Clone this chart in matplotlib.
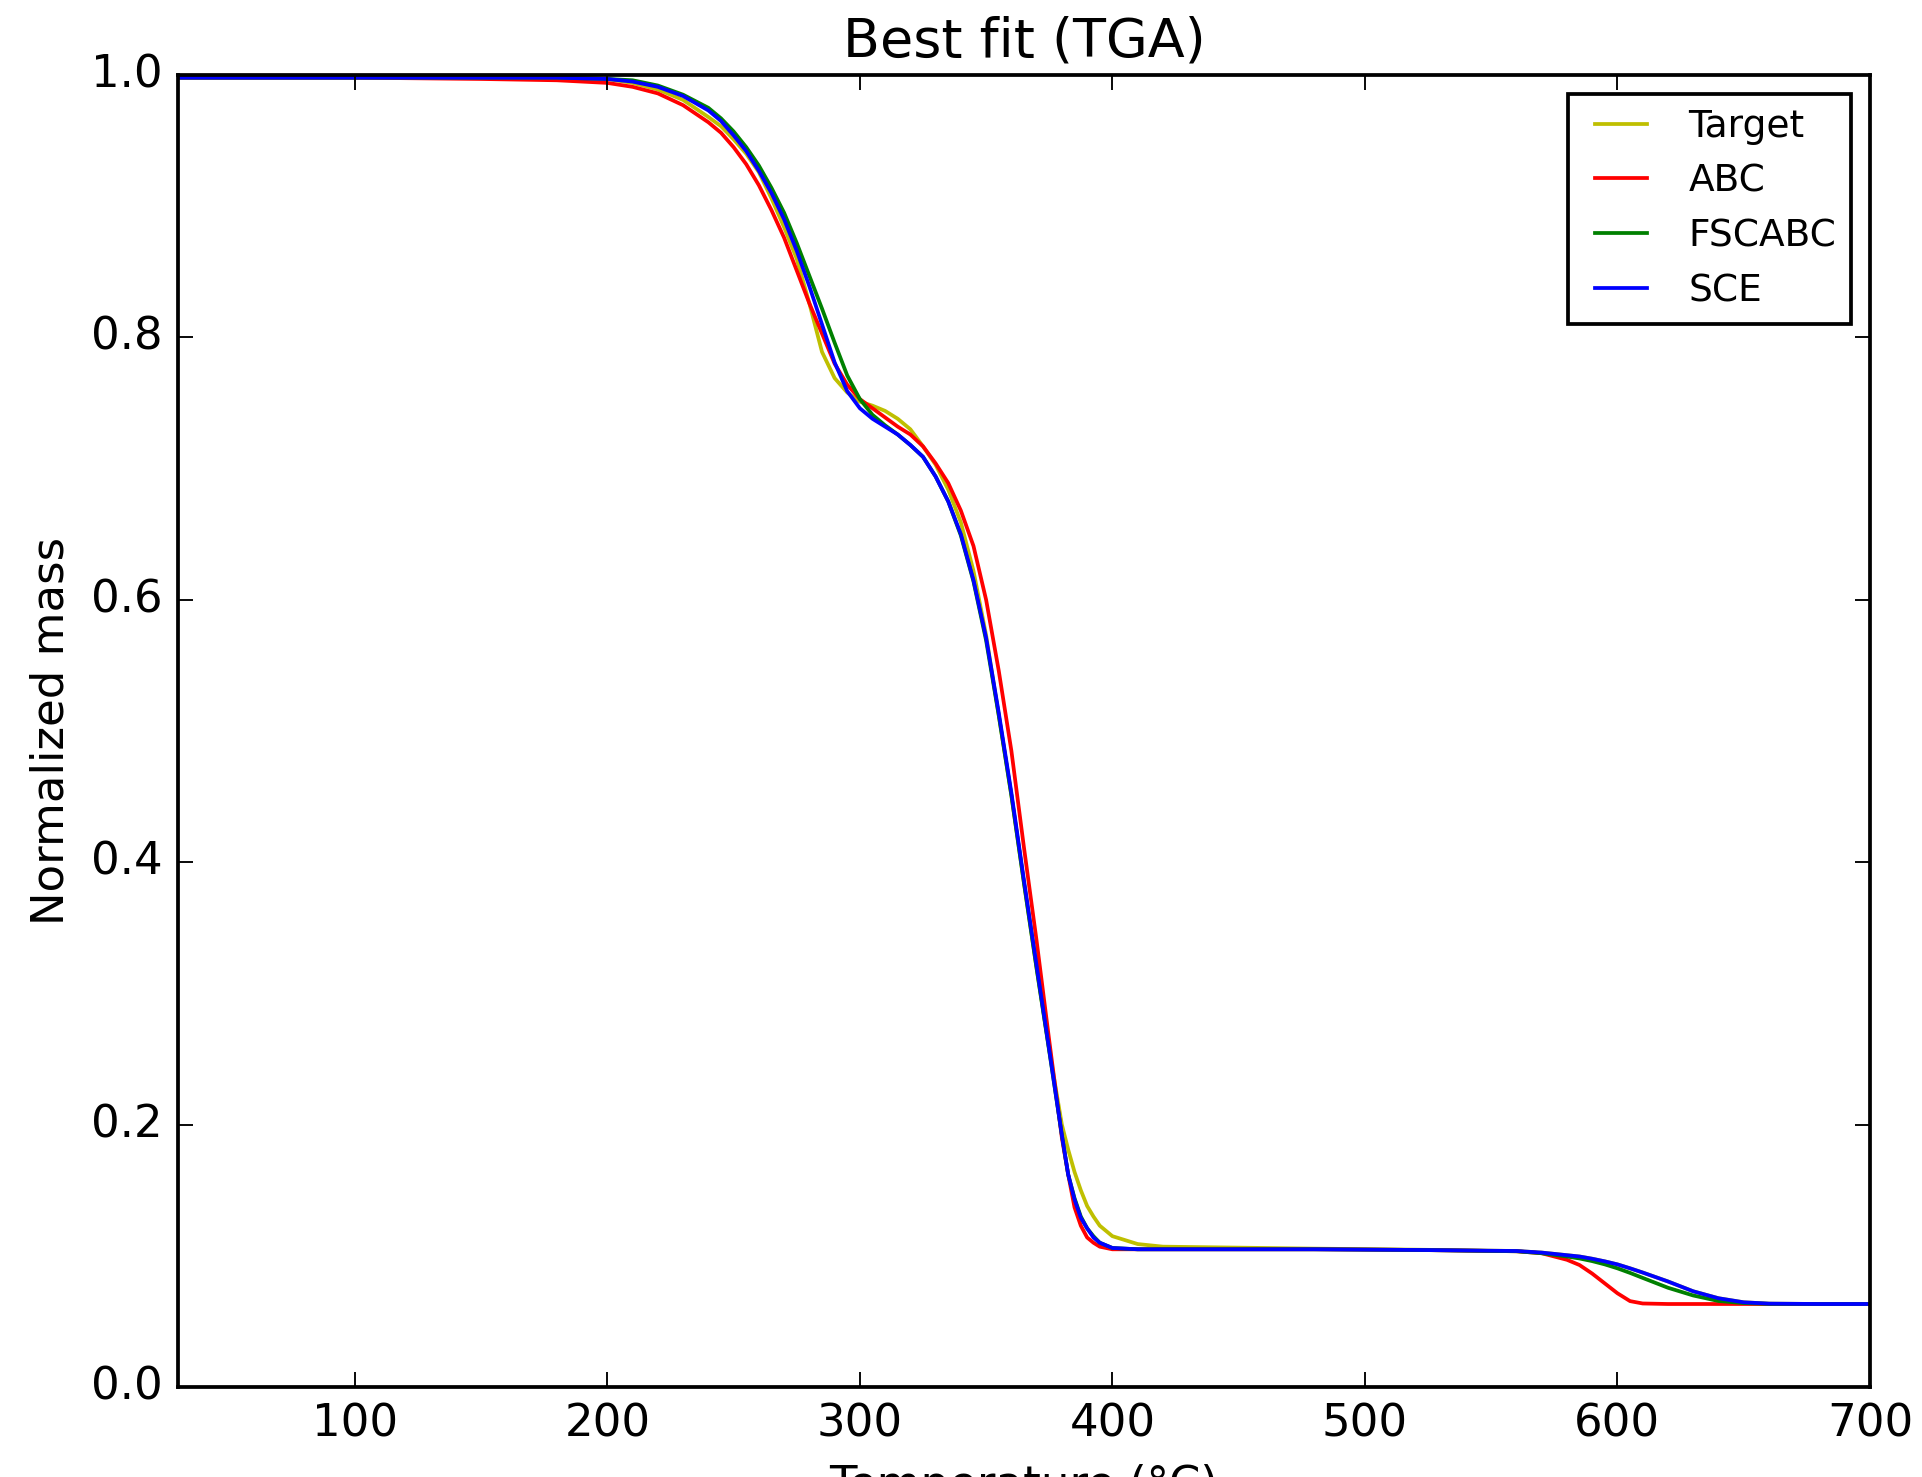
import matplotlib
matplotlib.use("Agg")
import matplotlib.pyplot as plt

plt.style.use("classic")

# temperature grid (degC) the curves were read at
temps = [30, 100, 150, 180, 200, 210, 220, 230, 240, 245, 250, 255, 260, 265, 270, 275, 280, 285,
         290, 295, 300, 305, 310, 315, 320, 325, 330, 335, 340, 345, 350, 355, 360,
         365, 370, 375, 380, 382.5, 385, 387.5, 390, 392.5, 395, 400, 410, 420, 440, 480, 520, 560, 570,
         580, 585, 590, 595, 600, 605, 610, 620, 630, 640, 650, 660, 680, 700]

target = [0.998, 0.998, 0.998, 0.998, 0.997, 0.994, 0.989, 0.981, 0.968, 0.961, 0.951, 0.940, 0.926, 0.906, 0.884, 0.860, 0.826, 0.789,
          0.769, 0.758, 0.751, 0.748, 0.744, 0.738, 0.730, 0.717, 0.703, 0.684, 0.659, 0.622, 0.573, 0.512, 0.451,
          0.384, 0.319, 0.257, 0.200, 0.181, 0.164, 0.150, 0.138, 0.130, 0.123, 0.115, 0.109, 0.107, 0.1065, 0.1055, 0.1047, 0.1037, 0.1025,
          0.1005, 0.0995, 0.0978, 0.0958, 0.0935, 0.0905, 0.0873, 0.0805, 0.0730, 0.0677, 0.0646, 0.0636, 0.0633, 0.0633]

abc = [0.998, 0.998, 0.997, 0.996, 0.994, 0.991, 0.986, 0.977, 0.964, 0.956, 0.945, 0.932, 0.916, 0.897, 0.876, 0.851, 0.826, 0.803,
       0.780, 0.764, 0.753, 0.746, 0.739, 0.732, 0.726, 0.717, 0.704, 0.689, 0.668, 0.641, 0.600, 0.546, 0.485,
       0.411, 0.340, 0.264, 0.190, 0.162, 0.137, 0.123, 0.114, 0.110, 0.107, 0.105, 0.105, 0.105, 0.105, 0.105, 0.1045, 0.1035, 0.102,
       0.097, 0.093, 0.0865, 0.079, 0.0715, 0.0655, 0.0637, 0.0633, 0.0633, 0.0633, 0.0633, 0.0633, 0.0633, 0.0633]

fscabc = [0.998, 0.998, 0.998, 0.998, 0.997, 0.996, 0.992, 0.985, 0.975, 0.967, 0.957, 0.945, 0.931, 0.914, 0.895, 0.872, 0.847, 0.822,
          0.796, 0.771, 0.753, 0.741, 0.733, 0.726, 0.718, 0.709, 0.694, 0.675, 0.649, 0.614, 0.569, 0.512, 0.451,
          0.384, 0.319, 0.256, 0.192, 0.162, 0.144, 0.130, 0.121, 0.115, 0.110, 0.106, 0.105, 0.105, 0.105, 0.105, 0.1045, 0.1035, 0.102,
          0.0995, 0.098, 0.096, 0.0935, 0.0905, 0.087, 0.0832, 0.0757, 0.0698, 0.0656, 0.0640, 0.0634, 0.0633, 0.0633]

sce = [0.998, 0.998, 0.998, 0.998, 0.997, 0.995, 0.991, 0.984, 0.973, 0.965, 0.954, 0.942, 0.927, 0.910, 0.890, 0.866, 0.839, 0.810,
       0.781, 0.759, 0.746, 0.738, 0.732, 0.726, 0.718, 0.709, 0.694, 0.675, 0.650, 0.615, 0.571, 0.514, 0.453,
       0.386, 0.321, 0.257, 0.192, 0.162, 0.143, 0.129, 0.121, 0.114, 0.110, 0.106, 0.105, 0.105, 0.105, 0.105, 0.1045, 0.1037, 0.1025,
       0.1005, 0.0995, 0.0978, 0.0958, 0.0935, 0.0905, 0.0873, 0.0805, 0.0730, 0.0677, 0.0646, 0.0636, 0.0633, 0.0633]

dpi = 270
fig = plt.figure(figsize=(1923 / dpi, 1477 / dpi), dpi=dpi, facecolor="white")
ax = fig.add_axes([0.0926, 0.0609, 0.9724 - 0.0926, 0.9492 - 0.0609])

ax.plot(temps, target, color="y", label="Target")
ax.plot(temps, abc, color="r", label="ABC")
ax.plot(temps, fscabc, color="g", label="FSCABC")
ax.plot(temps, sce, color="b", label="SCE")

ax.set_xlim(30, 700)
ax.set_ylim(0.0, 1.0)
ax.set_title("Best fit (TGA)")
ax.set_xlabel("Temperature (°C)")
ax.set_ylabel("Normalized mass")
ax.legend(loc="upper right", fontsize=10)

fig.savefig("out.png", dpi=dpi, facecolor="white")
